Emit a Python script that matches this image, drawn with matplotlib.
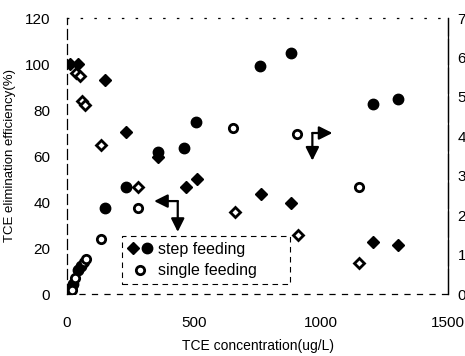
import numpy as np
import matplotlib.pyplot as plt
from matplotlib.legend_handler import HandlerTuple

plt.rcParams['font.family'] = ['Liberation Sans', 'DejaVu Sans']

# step feeding, elimination efficiency (%) -> left axis, filled diamonds
step_eff_x = [12, 45, 148, 234, 357, 467, 510, 763, 880, 1204, 1305]
step_eff_y = [100, 100, 93, 70.5, 59.5, 46.5, 50, 43.5, 39.5, 22.6, 21.3]

# single feeding, elimination efficiency (%) -> left axis, open diamonds
single_eff_x = [35, 50, 58, 70, 133, 280, 662, 908, 1149]
single_eff_y = [96, 95, 84, 82, 65, 46.5, 35.7, 25.6, 13.5]

# step feeding, right axis values -> filled circles
step_r_x = [8, 16, 23, 43, 55, 148, 234, 357, 460, 506, 760, 880, 1204, 1305]
step_r_y = [0.05, 0.15, 0.25, 0.6, 0.7, 2.18, 2.71, 3.6, 3.7, 4.36, 5.78, 6.11, 4.82, 4.95]

# single feeding, right axis values -> open circles
single_r_x = [20, 31, 66, 74, 133, 280, 655, 904, 1149]
single_r_y = [0.1, 0.4, 0.8, 0.9, 1.39, 2.18, 4.21, 4.06, 2.71]

fig = plt.figure(figsize=(4.65, 3.56), dpi=100)
ax = fig.add_axes([67/465, 62/356, 381/465, 276/356])
ax2 = ax.twinx()

ax.plot(step_eff_x, step_eff_y, 'D', color='black', ms=6.5, ls='none')
ax.plot(single_eff_x, single_eff_y, 'D', mfc='white', mec='black', mew=2, ms=5.5, ls='none')
ax2.plot(step_r_x, step_r_y, 'o', color='black', ms=7.5, ls='none')
ax2.plot(single_r_x, single_r_y, 'o', mfc='white', mec='black', mew=2, ms=6, ls='none')

ax.set_xlim(0, 1500)
ax.set_ylim(0, 120)
ax2.set_ylim(0, 7)
ax.set_xticks([0, 500, 1000, 1500])
ax.set_yticks([0, 20, 40, 60, 80, 100, 120])
ax2.set_yticks(range(8))

ax.tick_params(axis='x', length=0, pad=16, labelsize=11)
ax.tick_params(axis='y', length=0, pad=12, labelsize=11)
ax2.tick_params(axis='y', length=0, pad=7, labelsize=11)

ax.set_xlabel('TCE concentration(ug/L)', fontsize=10, labelpad=6)
ax.set_ylabel('TCE elimination efficiency(%)', fontsize=9.5, labelpad=6)

for a in (ax, ax2):
    for s in a.spines.values():
        s.set_linewidth(0.9)
ax.spines['left'].set_linestyle((0, (8, 4)))
ax.spines['bottom'].set_linestyle((0, (4, 6)))
ax.spines['top'].set_linestyle((0, (1, 10)))
ax2.spines['left'].set_visible(False)
ax2.spines['bottom'].set_visible(False)
ax2.spines['top'].set_visible(False)
ax2.spines['right'].set_linestyle((0, (20, 3)))

# arrows pointing to the axes
arr = dict(arrowstyle='-|>', color='black', lw=1.6, mutation_scale=20, shrinkA=0, shrinkB=0)
ax.annotate('', xy=(343, 40.4), xytext=(436, 40.4), arrowprops=arr)
ax.annotate('', xy=(436, 27), xytext=(436, 40.4), arrowprops=arr)
ax.annotate('', xy=(1045, 70), xytext=(966, 70), arrowprops=arr)
ax.annotate('', xy=(966, 58), xytext=(966, 70), arrowprops=arr)

h_step_d, = ax.plot([], [], 'D', color='black', ms=6.5)
h_step_c, = ax.plot([], [], 'o', color='black', ms=7.5)
h_single, = ax.plot([], [], 'o', mfc='white', mec='black', mew=2, ms=6)
leg = ax.legend([(h_step_d, h_step_c), h_single],
                ['step feeding', 'single feeding'],
                handler_map={tuple: HandlerTuple(ndivide=None, pad=0.1)},
                loc='lower left', bbox_to_anchor=(0.144, 0.036, 0.44, 0.17), mode='expand',
                borderaxespad=0, fontsize=11.5, handlelength=1.6, handletextpad=0.3,
                borderpad=0.35, labelspacing=0.4, fancybox=False, framealpha=1)
leg.get_frame().set_edgecolor('black')
leg.get_frame().set_linestyle((0, (5, 4)))
leg.get_frame().set_linewidth(0.8)
leg.set_zorder(1)

fig.savefig('out.png', dpi=100)
